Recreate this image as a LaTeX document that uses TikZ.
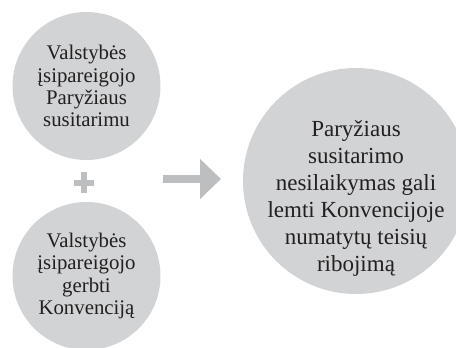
\documentclass[tikz,border=0pt]{standalone}
\usepackage{fontspec}
\setmainfont{Liberation Serif}
\usepackage{xcolor}
\usetikzlibrary{arrows.meta}
\definecolor{circlegray}{HTML}{D1D3D4}
\definecolor{signgray}{HTML}{BCBEC0}
\definecolor{textdark}{HTML}{231F20}

\begin{document}
\begin{tikzpicture}[x=1pt, y=-1pt,
        bubble/.style={circle, fill=circlegray, text=textdark, align=center, inner sep=0pt},
        small_bubble/.style={bubble, minimum size=148pt, font=\fontsize{20.8}{22.2}\selectfont},
        big_bubble/.style={bubble, minimum size=226pt},
        big_text/.style={text=textdark, align=center, font=\fontsize{23}{27}\selectfont},
        sign/.style={draw=signgray, line width=6pt}
    ]
    \useasboundingbox (0,0) rectangle (456,348);
    \node[small_bubble] (paris) at (86.5,86) {Valstybės\\įsipareigojo\\Paryžiaus\\susitarimu};
    \node[small_bubble] (convention) at (86.5,276) {Valstybės\\įsipareigojo\\gerbti\\Konvenciją};
    \node[big_bubble, label={[big_text, yshift=-17pt]center:{Paryžiaus\\susitarimo\\nesilaikymas gali\\lemti Konvencijoje\\numatytų teisių\\ribojimą}}] (limit) at (356,181) {};
    % plus between the two small circles
    \coordinate (plus) at (84,182.5);
    \draw[sign] ([xshift=-10pt]plus) -- ([xshift=10pt]plus);
    \draw[sign] ([yshift=10.5pt]plus) -- ([yshift=-10.5pt]plus);
    % arrow towards the big circle
    \coordinate (arrowstart) at (163,179);
    \coordinate (arrowend) at (221,179);
    \draw[draw=signgray, line width=8pt, -{Triangle[length=21pt, width=39pt, fill=signgray]}] (arrowstart) -- (arrowend);
\end{tikzpicture}
\end{document}
